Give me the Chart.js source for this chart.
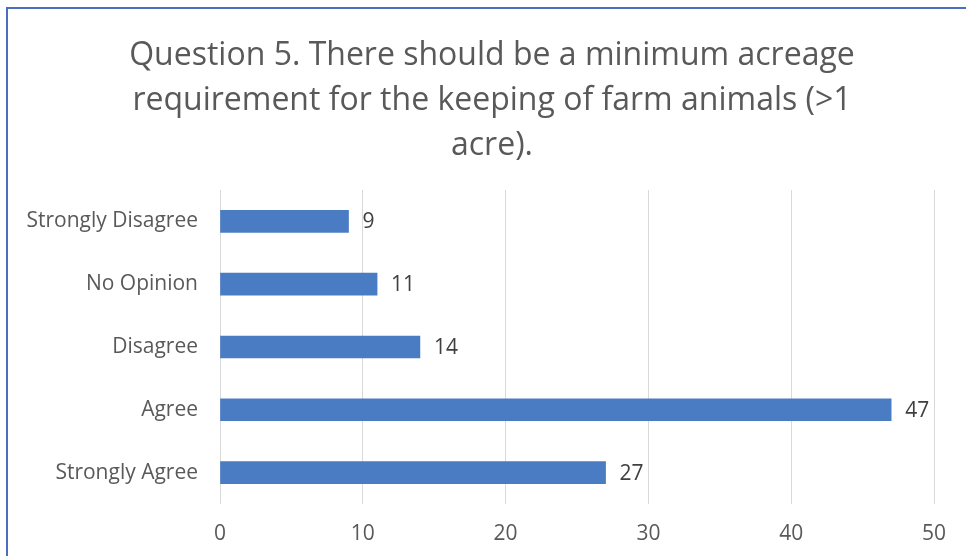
<!DOCTYPE html>
<html>
<head>
<meta charset="utf-8">
<script src="https://cdn.jsdelivr.net/npm/chart.js"></script>
<style>
  html, body { margin: 0; padding: 0; background: #fff; }
  #wrap { position: relative; width: 966px; height: 556px; overflow: hidden; }
  #frame {
    position: absolute; left: 6px; top: 7px; width: 1000px; height: 600px;
    border-left: 2px solid #4a6fc0; border-top: 2px solid #4a6fc0;
  }
  canvas { position: absolute; left: 0; top: 0; }
</style>
</head>
<body>
<div id="wrap">
  <div id="frame"></div>
  <canvas id="surveyChart" width="966" height="556"></canvas>
</div>
<script>
const categories = ['Strongly Disagree', 'No Opinion', 'Disagree', 'Agree', 'Strongly Agree'];
const responses = [9, 11, 14, 47, 27];
const xTicks = [0, 10, 20, 30, 40, 50];

const FONT = "'Open Sans'";

// value labels just past the end of each bar
const barValueLabels = {
  id: 'barValueLabels',
  afterDatasetsDraw(chart) {
    const ctx = chart.ctx;
    const meta = chart.getDatasetMeta(0);
    ctx.save();
    ctx.font = '21px ' + FONT;
    ctx.fillStyle = '#404040';
    ctx.textBaseline = 'middle';
    meta.data.forEach((bar, i) => {
      ctx.fillText(String(responses[i]), bar.x + 14, bar.y + 1);
    });
    ctx.restore();
  }
};

// pull the title block in from the left so it sits centred over the frame
const titleShift = {
  id: 'titleShift',
  afterLayout(chart) {
    if (chart.titleBlock) chart.titleBlock.left = 50;
  }
};

document.addEventListener('DOMContentLoaded', function () {
  const ctx = document.getElementById('surveyChart').getContext('2d');
  new Chart(ctx, {
    type: 'bar',
    data: {
      labels: categories,
      datasets: [{
        data: responses,
        backgroundColor: '#4a7cc4',
        barThickness: 22
      }]
    },
    plugins: [barValueLabels, titleShift],
    options: {
      indexAxis: 'y',
      responsive: false,
      animation: false,
      layout: { padding: { top: 33, right: 32, bottom: 0, left: 0 } },
      plugins: {
        legend: { display: false },
        tooltip: { enabled: false },
        title: {
          display: true,
          text: ['Question 5. There should be a minimum acreage',
                 'requirement for the keeping of farm animals (>1',
                 'acre).'],
          color: '#595959',
          font: { family: FONT, size: 32, weight: 'normal', lineHeight: 1.406 },
          padding: { top: 0, bottom: 22 }
        }
      },
      scales: {
        x: {
          min: 0,
          max: 50,
          afterBuildTicks(scale) { scale.ticks = xTicks.map(v => ({ value: v })); },
          afterFit(scale) { scale.height = 52; },
          grid: { color: '#d9d9d9', drawTicks: false },
          border: { display: false },
          ticks: { color: '#595959', font: { family: FONT, size: 21 }, padding: 17 }
        },
        y: {
          afterFit(scale) { scale.width = 220; },
          grid: { display: false, drawTicks: false },
          border: { display: false },
          ticks: { color: '#595959', font: { family: FONT, size: 21 }, padding: 22 }
        }
      }
    }
  });
});
</script>
</body>
</html>
